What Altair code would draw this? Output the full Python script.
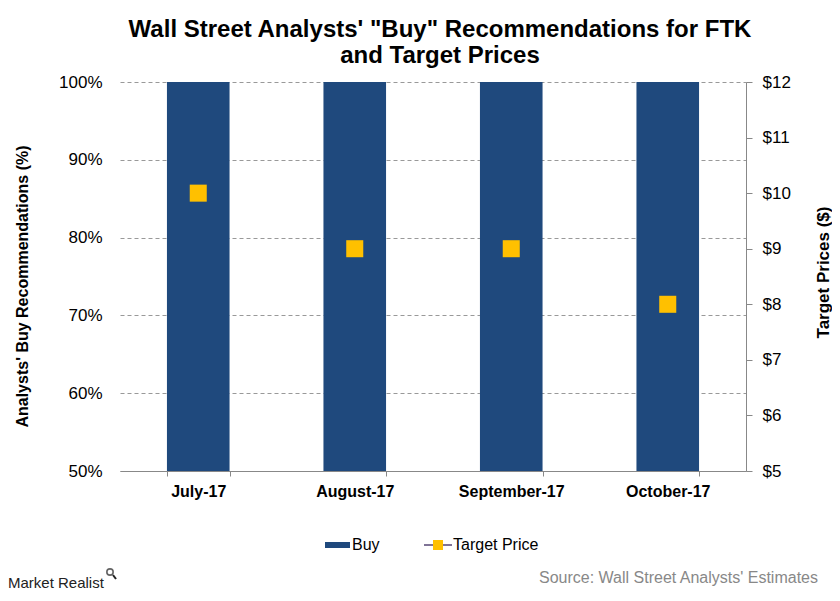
import altair as alt
import pandas as pd

months = ["July-17", "August-17", "September-17", "October-17"]
buy_pct = [100, 100, 100, 100]
target_price = [10, 9, 9, 8]

FONT = "Liberation Sans"
NAVY = "#1F497D"
GOLD = "#FFC000"

df = pd.DataFrame({"month": months, "buy": buy_pct, "price": target_price})

W, H = 626, 389

xenc = alt.X(
    "month:N",
    sort=months,
    scale=alt.Scale(paddingInner=0.6, paddingOuter=0.3),
    axis=alt.Axis(
        title=None, labelAngle=0, labelFont=FONT, labelFontSize=16, labelFontWeight="bold",
        labelColor="#000", labelPadding=7, tickBand="extent", tickSize=5,
        tickColor="#888", domainColor="#888", grid=False,
    ),
)

bars = alt.Chart(df).mark_bar(color=NAVY).encode(
    x=xenc,
    y=alt.Y(
        "buy:Q",
        scale=alt.Scale(domain=[50, 100], zero=False, nice=False),
        axis=alt.Axis(
            title="Analysts' Buy Recommendations (%)", titleFont=FONT, titleFontSize=16,
            titleFontWeight="bold", titleColor="#000", titleX=-98, titleY=204,
            titleAngle=270, titleBaseline="middle",
            values=[50, 60, 70, 80, 90, 100], labelExpr="datum.value + '%'",
            labelFont=FONT, labelFontSize=17, labelColor="#000", labelPadding=18,
            domain=False, ticks=False, grid=True, gridColor="#999", gridDash=[4, 3],
            gridWidth=1,
        ),
    ),
    y2=alt.datum(50),
)

points = alt.Chart(df).mark_point(shape="square", filled=True, size=290, opacity=1, color=GOLD).encode(
    x=xenc,
    y=alt.Y(
        "price:Q",
        scale=alt.Scale(domain=[5, 12], zero=False, nice=False),
        axis=alt.Axis(
            orient="right", title="Target Prices ($)", titleFont=FONT, titleFontSize=17,
            titleFontWeight="bold", titleColor="#000", titleX=77, titleY=190,
            titleAngle=270, titleBaseline="middle",
            values=[5, 6, 7, 8, 9, 10, 11, 12], labelExpr="'$' + datum.value",
            labelFont=FONT, labelFontSize=17, labelColor="#000", labelPadding=10,
            tickSize=6, tickColor="#888", domainColor="#888", grid=False,
        ),
    ),
)

one = alt.Data(values=[{"k": 1}])

leg_buy = alt.Chart(one).mark_rect(color=NAVY).encode(
    x=alt.value(205), x2=alt.value(230), y=alt.value(460), y2=alt.value(466))
leg_buy_t = alt.Chart(one).mark_text(align="left", baseline="middle", font=FONT, fontSize=16, color="#000").encode(
    x=alt.value(232), y=alt.value(463), text=alt.value("Buy"))
leg_line = alt.Chart(one).mark_rule(color="#7F7396", strokeWidth=2).encode(
    x=alt.value(304), x2=alt.value(332), y=alt.value(463))
leg_sq = alt.Chart(one).mark_point(shape="square", filled=True, size=100, opacity=1, color=GOLD).encode(
    x=alt.value(318), y=alt.value(463))
leg_tp_t = alt.Chart(one).mark_text(align="left", baseline="middle", font=FONT, fontSize=16, color="#000").encode(
    x=alt.value(333), y=alt.value(463), text=alt.value("Target Price"))

logo = alt.Chart(one).mark_text(align="left", baseline="alphabetic", font=FONT,
                                fontSize=15, color="#222").encode(
    x=alt.value(-112), y=alt.value(506), text=alt.value("Market Realist"))
logo_icon = alt.Chart(one).mark_point(shape="circle", filled=False, size=40, color="#222", strokeWidth=1.6).encode(
    x=alt.value(-10), y=alt.value(490))
logo_handle = alt.Chart(one).mark_rule(color="#222", strokeWidth=2).encode(
    x=alt.value(-7), x2=alt.value(-4), y=alt.value(493), y2=alt.value(497))
source = alt.Chart(one).mark_text(align="right", baseline="alphabetic", font=FONT, fontSize=16, color="#888").encode(
    x=alt.value(698), y=alt.value(501), text=alt.value("Source: Wall Street Analysts' Estimates"))

main = alt.layer(bars, points).resolve_scale(y="independent")

chart = alt.layer(
    main, leg_buy, leg_buy_t, leg_line, leg_sq, leg_tp_t, logo, logo_icon, logo_handle, source
).properties(
    width=W, height=H,
    title=alt.TitleParams(
        text=["Wall Street Analysts' \"Buy\" Recommendations for FTK", "and Target Prices"],
        font=FONT, fontSize=24, fontWeight="bold", color="#000", lineHeight=26,
        anchor="middle", offset=5, dx=7,
    ),
    autosize=alt.AutoSizeParams(type="none"),
    padding={"left": 112, "top": 74, "right": 86, "bottom": 122},
).configure_view(stroke=None)

chart.save("out.html", embed_options={"renderer": "svg", "actions": False})
